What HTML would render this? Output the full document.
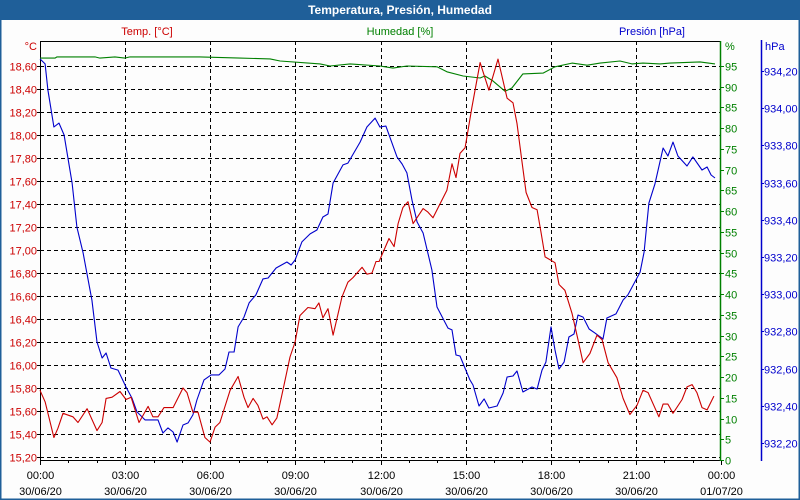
<!DOCTYPE html>
<html><head><meta charset="utf-8"><style>
body{margin:0;width:800px;height:500px;overflow:hidden;background:#fff;font-family:"Liberation Sans",sans-serif}
svg{display:block}
</style></head><body>
<svg id="chart" width="800" height="500" xmlns="http://www.w3.org/2000/svg">
<rect x="0" y="0" width="800" height="500" fill="#fdfdfd"/>
<rect x="0.5" y="0.5" width="799" height="499" fill="none" stroke="#1f5f99" stroke-width="2"/>
<rect x="0" y="0" width="800" height="20" fill="#1f5f99"/>
<text x="400" y="14" text-anchor="middle" font-size="12" font-weight="bold" fill="#fff">Temperatura, Presión, Humedad</text>
<text x="147" y="35" text-anchor="middle" font-size="11" fill="#cc0000">Temp. [°C]</text>
<text x="400" y="35" text-anchor="middle" font-size="11" fill="#008000">Humedad [%]</text>
<text x="685" y="35" text-anchor="end" font-size="11" fill="#0000cc">Presión [hPa]</text>
<g id="grid"></g><g id="axes"></g><g id="series"></g>
</svg>
<script>
const tempTicks=[18.6,18.4,18.2,18.0,17.8,17.6,17.4,17.2,17.0,16.8,16.6,16.4,16.2,16.0,15.8,15.6,15.4,15.2];
const humTicks=[95,90,85,80,75,70,65,60,55,50,45,40,35,30,25,20,15,10,5,0];
const presTicks=[934.2,934.0,933.8,933.6,933.4,933.2,933.0,932.8,932.6,932.4,932.2];
const xTickHours=[0,3,6,9,12,15,18,21,24];
const xTickTimes=["00:00","03:00","06:00","09:00","12:00","15:00","18:00","21:00","00:00"];
const xTickDates=["30/06/20","30/06/20","30/06/20","30/06/20","30/06/20","30/06/20","30/06/20","30/06/20","01/07/20"];

const tempHours=[0.00,0.18,0.49,0.63,0.81,1.16,1.34,1.66,2.01,2.19,2.33,2.54,2.82,3.03,3.21,3.49,3.81,3.98,4.16,4.37,4.69,5.04,5.18,5.39,5.57,5.81,5.99,6.17,6.34,6.70,6.98,7.19,7.33,7.51,7.68,7.86,8.00,8.18,8.35,8.56,8.81,8.99,9.16,9.44,9.69,9.83,9.97,10.15,10.33,10.64,10.85,11.03,11.35,11.52,11.70,11.84,11.95,12.30,12.48,12.62,12.79,12.97,13.15,13.50,13.67,13.85,14.34,14.52,14.66,14.80,14.98,15.22,15.51,15.82,16.14,16.46,16.67,16.81,16.99,17.13,17.34,17.52,17.66,17.80,18.15,18.29,18.50,18.75,18.96,19.14,19.38,19.63,19.81,20.02,20.33,20.55,20.79,21.04,21.25,21.43,21.81,21.96,22.13,22.31,22.63,22.80,22.98,23.15,23.33,23.51,23.75];
const tempValues=[15.78,15.68,15.37,15.45,15.58,15.55,15.50,15.62,15.43,15.50,15.71,15.72,15.77,15.70,15.72,15.50,15.64,15.55,15.55,15.63,15.63,15.80,15.76,15.59,15.59,15.37,15.33,15.46,15.50,15.78,15.90,15.72,15.63,15.71,15.65,15.53,15.55,15.48,15.54,15.78,16.07,16.20,16.43,16.50,16.49,16.54,16.41,16.49,16.26,16.59,16.72,16.76,16.85,16.79,16.80,16.90,16.90,17.10,17.03,17.23,17.37,17.42,17.23,17.36,17.33,17.28,17.52,17.75,17.63,17.84,17.89,18.24,18.63,18.39,18.66,18.32,18.28,18.10,17.76,17.50,17.37,17.35,17.15,16.94,16.89,16.70,16.65,16.45,16.22,16.02,16.10,16.26,16.22,16.02,15.89,15.71,15.57,15.65,15.78,15.76,15.55,15.66,15.66,15.58,15.70,15.81,15.83,15.76,15.63,15.61,15.73];

const presHours=[0.00,0.18,0.28,0.49,0.67,0.85,1.13,1.30,1.52,1.83,2.01,2.19,2.33,2.50,2.75,3.03,3.24,3.42,3.70,4.16,4.33,4.51,4.69,4.83,5.04,5.22,5.39,5.53,5.78,6.03,6.31,6.52,6.66,6.84,6.98,7.19,7.37,7.61,7.86,8.04,8.32,8.70,8.85,8.99,9.23,9.52,9.76,9.97,10.15,10.33,10.68,10.85,11.28,11.52,11.81,11.98,12.19,12.58,12.76,12.93,13.11,13.29,13.50,13.81,13.99,14.38,14.52,14.66,14.80,15.15,15.26,15.47,15.65,15.82,16.11,16.32,16.46,16.67,16.81,17.02,17.34,17.52,17.69,17.83,18.01,18.15,18.29,18.47,18.64,18.82,18.96,19.14,19.35,19.56,19.84,19.98,20.30,20.55,20.72,21.15,21.29,21.46,21.67,21.96,22.13,22.31,22.48,22.80,23.01,23.33,23.51,23.65,23.79];
const presValues=[934.265,934.238,934.098,933.899,933.920,933.856,933.598,933.361,933.222,932.969,932.743,932.657,932.684,932.603,932.592,932.501,932.442,932.367,932.324,932.324,932.254,932.281,932.259,932.205,932.297,932.308,932.351,932.431,932.539,932.566,932.566,932.598,932.689,932.689,932.824,932.877,932.953,932.996,933.082,933.087,933.141,933.173,933.157,933.184,933.281,933.324,933.345,933.415,933.431,933.598,933.695,933.705,933.818,933.899,933.947,933.899,933.904,933.738,933.700,933.652,933.506,933.388,933.329,933.130,932.931,932.818,932.808,932.673,932.668,932.539,932.512,932.399,932.437,932.388,932.399,932.469,932.555,932.560,932.587,932.474,932.501,932.490,932.592,932.635,932.824,932.700,932.598,932.635,932.770,932.786,932.888,932.877,932.813,932.791,932.759,932.872,932.894,932.969,932.996,933.119,933.227,933.490,933.592,933.786,933.743,933.818,933.743,933.689,933.738,933.668,933.684,933.641,933.625];

const humHours=[0.00,0.53,0.60,1.94,2.11,2.64,2.99,3.17,5.64,7.05,8.11,8.46,9.87,10.22,10.93,11.98,12.44,12.93,13.99,14.34,14.91,15.51,15.68,15.96,16.39,16.63,17.02,17.73,18.15,18.75,19.28,19.74,20.44,20.86,21.25,21.85,22.20,23.26,23.79];
const humValues=[96.9,96.9,97.2,97.2,96.9,97.2,96.9,97.2,97.2,96.9,96.7,96.2,95.5,95.0,95.5,95.0,94.5,95.0,94.8,93.6,92.6,92.1,92.6,91.4,88.9,89.7,93.1,93.3,94.8,95.7,95.2,95.7,96.2,95.5,95.7,95.5,95.7,96.0,95.5];

const X0=40,X1=721,YT=41,YB=460;
const xS=h=>X0+h*(X1-X0)/24;
const yT=v=>66+(18.6-v)*115;
const yH=v=>460-v*(394/95);
const yP=v=>71+(934.2-v)*186;
const NS="http://www.w3.org/2000/svg";
function mk(tag,attrs,parent,txt){const e=document.createElementNS(NS,tag);for(const k in attrs)e.setAttribute(k,attrs[k]);if(txt!==undefined)e.textContent=txt;parent.appendChild(e);return e;}
const grid=document.getElementById('grid'),axes=document.getElementById('axes'),ser=document.getElementById('series');

tempTicks.forEach(v=>{
  const y=Math.round(yT(v))+0.5;
  const g=mk('line',{x1:X0,x2:X1,y1:y,y2:y,stroke:'#000','stroke-dasharray':'4,3','stroke-width':1},grid);
  
  
  const tk=mk('line',{x1:X0-3,x2:X0,y1:y,y2:y,stroke:'#000'},axes);
  
  
  const t=mk('text',{x:X0-3,y:y+4,'text-anchor':'end','font-size':11,fill:'#cc0000'},axes,v.toFixed(2).replace('.',','));
  
  
});
xTickHours.forEach((h,i)=>{
  const x=Math.round(xS(h))+0.5;
  if(i>0&&i<xTickHours.length-1){
    const g=mk('line',{x1:x,x2:x,y1:YT,y2:YB,stroke:'#000','stroke-dasharray':'4,3'},grid);
    
    
  }
  const a=mk('text',{x:x,y:479,'text-anchor':'middle','font-size':11,fill:'#000'},axes,xTickTimes[i]);
  
  
  const b=mk('text',{x:x,y:495,'text-anchor':'middle','font-size':11,fill:'#000'},axes,xTickDates[i]);
  
  
});
for(let h=0;h<=24;h++){
  const x=Math.round(xS(h))+0.5;
  const t=mk('line',{x1:x,x2:x,y1:YB,y2:YB+(h%3==0?5:3),stroke:'#000'},axes);
  
  
}
humTicks.forEach(v=>{
  const y=Math.round(yH(v))+0.5;
  const tk=mk('line',{x1:X1,x2:X1+3,y1:y,y2:y,stroke:'#008000'},axes);
  
  
  const t=mk('text',{x:X1+4,y:y+4,'font-size':11,fill:'#008000'},axes,String(v));
  
  
});
presTicks.forEach(v=>{
  const y=Math.round(yP(v))+0.5;
  const tk=mk('line',{x1:761,x2:764,y1:y,y2:y,stroke:'#0000cc'},axes);
  
  
  const t=mk('text',{x:764,y:y+4,'font-size':11,fill:'#0000cc'},axes,v.toFixed(2).replace('.',','));
  
  
});
const frame=mk('path',{d:`M${X1-0.5},${YT+0.5} H${X0+0.5} V${YB+0.5} H${X1-0.5}`,fill:'none',stroke:'#000'},axes);


const hax=mk('line',{x1:X1-0.5,x2:X1-0.5,y1:YT,y2:YB+1,stroke:'#008000','stroke-width':1.5},axes);


const pax=mk('line',{x1:761.5,x2:761.5,y1:40,y2:461,stroke:'#0000cc','stroke-width':1.5},axes);


const u1=mk('text',{x:37,y:50,'text-anchor':'end','font-size':11,fill:'#cc0000'},axes,'°C');


const u2=mk('text',{x:725,y:50,'font-size':11,fill:'#008000'},axes,'%');


const u3=mk('text',{x:765,y:50,'font-size':11,fill:'#0000cc'},axes,'hPa');



function line(hours,vals,ys,color,name){
  const pts=hours.map((h,i)=>xS(h).toFixed(1)+','+ys(vals[i]).toFixed(1)).join(' ');
  const p=mk('polyline',{points:pts,fill:'none',stroke:color,'stroke-width':1.1,'stroke-linejoin':'round'},ser);
  
  
}
line(humHours,humValues,yH,'#008000','humidity-line');
line(presHours,presValues,yP,'#0000cc','pressure-line');
line(tempHours,tempValues,yT,'#cc0000','temperature-line');
</script>
</body></html>
